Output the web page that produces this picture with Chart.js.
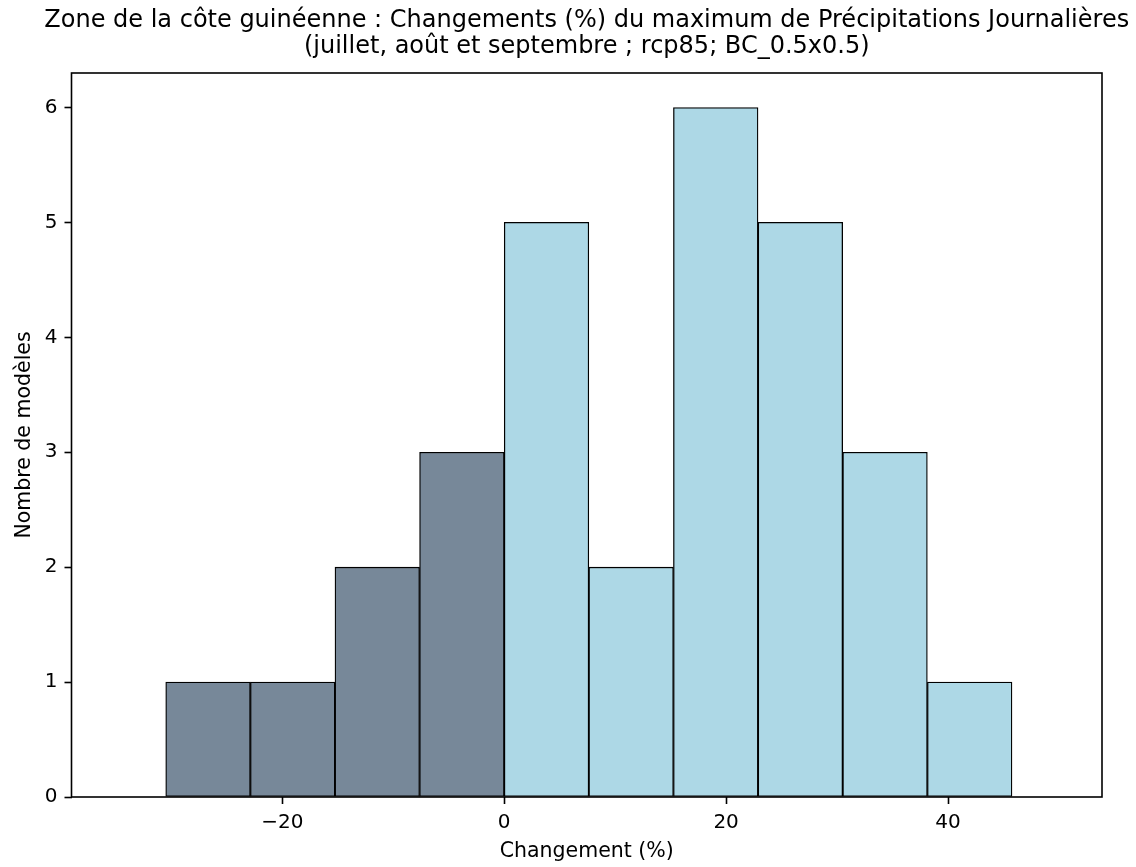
<!DOCTYPE html>
<html>
<head>
<meta charset="utf-8">
<script src="https://cdn.jsdelivr.net/npm/chart.js@4.4.1/dist/chart.umd.min.js"></script>
<style>
  html, body { margin: 0; padding: 0; background: #ffffff; }
  #wrap { width: 1136px; height: 867px; }
</style>
</head>
<body>
<div id="wrap"><canvas id="c" width="1136" height="867"></canvas></div>
<script>
// ---- data ----
const titleLines = [
  "Zone de la côte guinéenne : Changements (%) du maximum de Précipitations Journalières",
  "(juillet, août et septembre ; rcp85; BC_0.5x0.5)"
];
const xLabel = "Changement (%)";
const yLabel = "Nombre de modèles";
const binEdges = [-30.51, -22.88, -15.25, -7.63, 0, 7.63, 15.25, 22.88, 30.51, 38.14, 45.77];
const counts = [1, 1, 2, 3, 5, 2, 6, 5, 3, 1];
const xTicks = [-20, 0, 20, 40];
const yTicks = [0, 1, 2, 3, 4, 5, 6];
const xRange = [-39.0, 53.88];
const yRange = [0, 6.3];

const negColor = "#778899";
const posColor = "#add8e6";

const points = counts.map((c, i) => ({ x: (binEdges[i] + binEdges[i + 1]) / 2, y: c }));
const colors = points.map(p => (p.x < 0 ? negColor : posColor));

const FONT = "'DejaVu Sans', sans-serif";

const frame = {
  id: 'frame',
  afterDatasetsDraw(chart) {
    const a = chart.chartArea, ctx = chart.ctx;
    ctx.save();
    ctx.strokeStyle = '#000';
    ctx.lineWidth = 1.6;
    ctx.strokeRect(a.left, a.top, a.right - a.left, a.bottom - a.top);
    ctx.restore();
  }
};

const tickGrid = {
  display: true,
  offset: false,
  drawOnChartArea: false,
  drawTicks: true,
  tickLength: 7,
  tickWidth: 1.6,
  tickColor: '#000'
};

new Chart(document.getElementById('c'), {
  type: 'bar',
  data: {
    datasets: [{
      data: points,
      backgroundColor: colors,
      borderColor: '#000',
      borderWidth: 1.3,
      borderSkipped: false,
      barPercentage: 1,
      categoryPercentage: 1
    }]
  },
  plugins: [frame],
  options: {
    responsive: false,
    animation: false,
    devicePixelRatio: 1,
    layout: { padding: { left: 37.5, right: 0, top: 0, bottom: 0 } },
    plugins: {
      legend: { display: false },
      tooltip: { enabled: false },
      title: {
        display: true,
        fullSize: true,
        text: titleLines,
        color: '#000',
        font: { family: FONT, size: 24, weight: 'normal', lineHeight: '26.7px' },
        padding: { top: 7, bottom: 12.6 }
      }
    },
    scales: {
      x: {
        type: 'linear',
        min: xRange[0],
        max: xRange[1],
        offset: false,
        afterFit(s) { s.height = 70; },
        afterBuildTicks(s) { s.ticks = xTicks.map(v => ({ value: v })); },
        ticks: {
          color: '#000',
          padding: 6.5,
          font: { family: FONT, size: 20 },
          maxRotation: 0,
          autoSkip: false,
          callback: v => String(v).replace('-', '\u2212')
        },
        grid: tickGrid,
        border: { display: false },
        title: {
          display: true,
          text: xLabel,
          color: '#000',
          font: { family: FONT, size: 20.5 },
          padding: { top: 0, bottom: 2.8 }
        }
      },
      y: {
        type: 'linear',
        position: 'left',
        min: yRange[0],
        max: yRange[1],
        afterFit(s) { s.width = 34; },
        afterBuildTicks(s) { s.ticks = yTicks.map(v => ({ value: v })); },
        ticks: {
          color: '#000',
          padding: 7,
          font: { family: FONT, size: 20 },
          autoSkip: false
        },
        grid: tickGrid,
        border: { display: false },
        title: {
          display: true,
          text: yLabel,
          color: '#000',
          font: { family: FONT, size: 20.5 },
          padding: { top: -25.3, bottom: 0 }
        }
      },
      yRightSpace: {
        type: 'linear',
        position: 'right',
        display: true,
        min: yRange[0],
        max: yRange[1],
        afterFit(s) { s.width = 34; },
        ticks: { display: false },
        grid: { display: false, drawTicks: false },
        border: { display: false },
        title: { display: false }
      }
    }
  }
});
</script>
</body>
</html>
